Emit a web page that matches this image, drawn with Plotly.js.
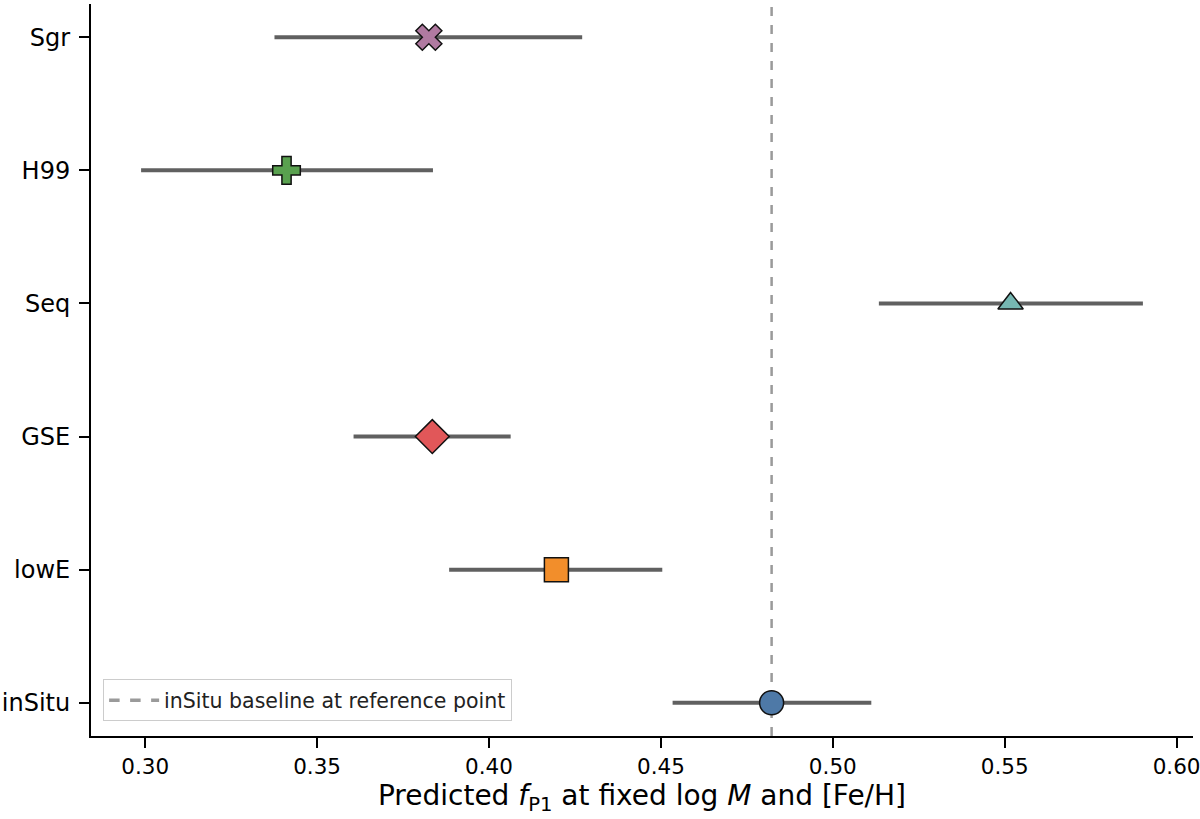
<!DOCTYPE html>
<html>
<head>
<meta charset="utf-8">
<script src="https://cdn.plot.ly/plotly-3.0.1.min.js"></script>
<style>
  html, body { margin: 0; padding: 0; background: #ffffff; }
  #chart { width: 1200px; height: 819px; }
</style>
</head>
<body>
<div id="chart"></div>
<script>
// Groups, bottom to top
const groups = ["inSitu", "lowE", "GSE", "Seq", "H99", "Sgr"];
// Predicted f_P1 and its interval bounds
const fP1 = [0.4822, 0.4196, 0.3835, 0.5517, 0.3411, 0.3825];
const fLow = [0.4534, 0.3884, 0.3606, 0.5134, 0.2988, 0.3376];
const fHigh = [0.5112, 0.4504, 0.4063, 0.5902, 0.3837, 0.4271];
// inSitu baseline value
const baseline = 0.4822;
const baselineLabel = "inSitu baseline at reference point";

const markerSymbols = ["circle", "square", "diamond", "triangle-up", "cross", "x"];
const markerColors = ["#4e79a7", "#f28e2b", "#e15759", "#76b7b2", "#59a14f", "#b07aa1"];
const markerSizes = [24, 24, 26, 22, 23, 23];

const yIdx = groups.map((g, i) => i);

const traces = groups.map((g, i) => ({
  type: "scatter",
  mode: "markers",
  x: [fP1[i]],
  y: [yIdx[i]],
  name: g,
  showlegend: false,
  error_x: {
    type: "data",
    symmetric: false,
    array: [fHigh[i] - fP1[i]],
    arrayminus: [fP1[i] - fLow[i]],
    color: "#606060",
    thickness: 4,
    width: 0
  },
  marker: {
    symbol: markerSymbols[i],
    color: markerColors[i],
    size: markerSizes[i],
    line: { color: "#111111", width: 1.5 }
  },
  hoverinfo: "x+name"
}));

// legend entry for the baseline
traces.unshift({
  type: "scatter",
  mode: "lines",
  x: [null],
  y: [null],
  name: baselineLabel,
  line: { color: "#9a9a9a", width: 3.5, dash: "dash" },
  showlegend: true,
  hoverinfo: "skip"
});

const allX = fLow.concat(fHigh);
const xmin = Math.min(...allX), xmax = Math.max(...allX);
const pad = 0.05 * (xmax - xmin);

const font = "DejaVu Sans, sans-serif";

const layout = {
  width: 1200,
  height: 819,
  paper_bgcolor: "#ffffff",
  plot_bgcolor: "#ffffff",
  margin: { l: 91, r: 7, t: 4, b: 83 },
  font: { family: font, color: "#000000", size: 20 },
  showlegend: true,
  legend: {
    x: 0.011, y: 0.02, xanchor: "left", yanchor: "bottom",
    bgcolor: "rgba(255,255,255,0.9)",
    bordercolor: "#cccccc", borderwidth: 1,
    font: { family: font, size: 20.5, color: "#222222" },
    itemwidth: 50,
    tracegroupgap: 0
  },
  xaxis: {
    range: [xmin - pad, xmax + pad],
    tickmode: "array",
    tickvals: [0.30, 0.35, 0.40, 0.45, 0.50, 0.55, 0.60],
    ticktext: ["0.30", "0.35", "0.40", "0.45", "0.50", "0.55", "0.60"],
    ticks: "outside", ticklen: 10, tickwidth: 2, tickcolor: "#000000",
    ticklabeloverflow: "allow",
    showline: true, linecolor: "#000000", linewidth: 2,
    showgrid: false, zeroline: false,
    tickfont: { family: font, size: 21.5, color: "#000000" },
    title: {
      text: "Predicted <i>f</i><sub>P1</sub> at fixed log <i>M</i> and [Fe/H]",
      font: { family: font, size: 28, color: "#000000" },
      standoff: 8
    }
  },
  yaxis: {
    range: [-0.25, groups.length - 0.75],
    tickmode: "array",
    tickvals: yIdx,
    ticktext: groups,
    ticks: "outside", ticklen: 10, tickwidth: 2, tickcolor: "#000000",
    ticklabeloverflow: "allow",
    showline: true, linecolor: "#000000", linewidth: 2,
    showgrid: false, zeroline: false,
    ticklabelstandoff: 4,
    tickfont: { family: font, size: 24, color: "#000000" }
  },
  shapes: [{
    type: "line",
    xref: "x", yref: "paper",
    x0: baseline, x1: baseline, y0: 0, y1: 1,
    line: { color: "#9a9a9a", width: 2.5, dash: "dash" },
    layer: "below"
  }]
};

Plotly.newPlot("chart", traces, layout, { displayModeBar: false, staticPlot: true });
</script>
</body>
</html>
